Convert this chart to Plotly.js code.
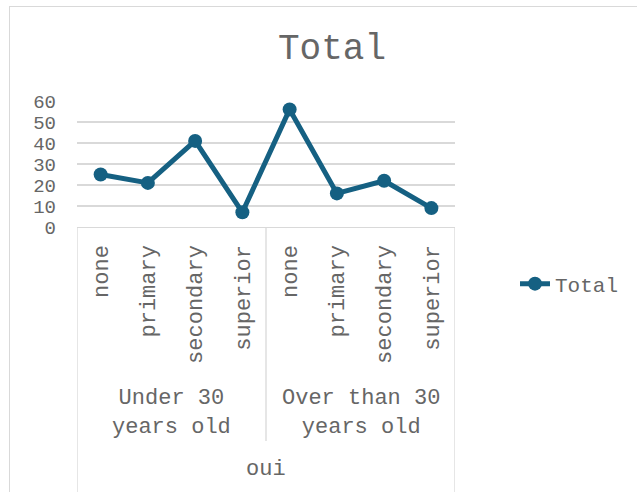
<!DOCTYPE html>
<html>
<head>
<meta charset="utf-8">
<script src="https://cdn.plot.ly/plotly-3.0.1.min.js"></script>
<style>
  html, body { margin: 0; padding: 0; background: #fff; }
  #wrap { position: relative; width: 637px; height: 492px; overflow: hidden; }
  #chart { position: absolute; left: 0; top: 0; width: 637px; height: 492px; }
  #frame { position: absolute; left: 9px; top: 6px; right: -2px; bottom: -2px;
           border-left: 1px solid #d9d9d9; border-top: 1px solid #d9d9d9; pointer-events: none; }
</style>
</head>
<body>
<div id="wrap"><div id="chart"></div><div id="frame"></div></div>
<script>
// ---- data ----
const outerLabel = "oui";
const groups = ["Under 30<br>years old", "Over than 30<br>years old"];
const education = ["none", "primary", "secondary", "superior"];
const under30 = [25, 21, 41, 7];
const over30 = [56, 16, 22, 9];
const seriesName = "Total";
const yTicks = [0, 10, 20, 30, 40, 50, 60];

// ---- build ----
const groupValues = [under30, over30];
const xIdx = [], yVals = [], tickText = [];
groupValues.forEach((vals, g) => {
  vals.forEach((v, i) => {
    xIdx.push(g * education.length + i);
    yVals.push(v);
    tickText.push(education[i]);
  });
});

const FONT = '"Liberation Mono", "Courier New", monospace';
const TXT = '#666666';
const GRID = '#d9d9d9';
const LINE = '#156082';

const plotH = 126; // px height of plot area (used for paper offsets)
const pxToPaperY = px => -px / plotH;

const shapes = [];
const annotations = [];
const nPer = education.length;
const nTot = xIdx.length;
// outer box verticals
shapes.push({type: 'line', xref: 'x', yref: 'paper', x0: -0.5, x1: -0.5, y0: 0, y1: pxToPaperY(270), line: {color: GRID, width: 1.3}});
shapes.push({type: 'line', xref: 'x', yref: 'paper', x0: nTot - 0.5, x1: nTot - 0.5, y0: 0, y1: pxToPaperY(270), line: {color: GRID, width: 1.3}});
// group dividers
for (let g = 1; g < groups.length; g++) {
  const xb = g * nPer - 0.5;
  shapes.push({type: 'line', xref: 'x', yref: 'paper', x0: xb, x1: xb, y0: 0, y1: pxToPaperY(214), line: {color: GRID, width: 1.3}});
}
groups.forEach((lab, g) => {
  annotations.push({
    xref: 'x', yref: 'paper', x: g * nPer + (nPer - 1) / 2, y: pxToPaperY(186),
    text: lab, showarrow: false, xanchor: 'center', yanchor: 'middle',
    font: {family: FONT, size: 22, color: TXT}
  });
});
annotations.push({
  xref: 'x', yref: 'paper', x: (nTot - 1) / 2, y: pxToPaperY(242),
  text: outerLabel, showarrow: false, xanchor: 'center', yanchor: 'middle',
  font: {family: FONT, size: 22, color: TXT}
});

const trace = {
  type: 'scatter', mode: 'lines+markers', name: seriesName,
  x: xIdx, y: yVals,
  line: {color: LINE, width: 5},
  marker: {color: LINE, size: 14},
  cliponaxis: false,
  showlegend: true
};

const layout = {
  width: 637, height: 492,
  margin: {l: 77, r: 182, t: 101, b: 265, pad: 0},
  paper_bgcolor: 'rgba(0,0,0,0)', plot_bgcolor: 'rgba(0,0,0,0)',
  font: {family: FONT, color: TXT, size: 22},
  title: {text: 'Total', font: {family: FONT, size: 36, color: TXT},
          xref: 'container', x: 332 / 637, xanchor: 'center',
          yref: 'container', y: 1 - 46 / 492, yanchor: 'middle'},
  xaxis: {
    range: [-0.5, nTot - 0.5], tickmode: 'array', tickvals: xIdx, ticktext: tickText,
    tickangle: -90, ticks: '', showgrid: false, zeroline: false,
    showline: true, linecolor: GRID, linewidth: 1.3,
    tickfont: {family: FONT, size: 22, color: TXT}, ticklabelstandoff: 8,
    fixedrange: true
  },
  yaxis: {
    range: [0, 60], tickmode: 'array', tickvals: yTicks, ticks: '',
    showgrid: true, gridcolor: GRID, gridwidth: 1.3, zeroline: false, showline: false,
    tickfont: {family: FONT, size: 19, color: TXT}, ticklabelstandoff: 20,
    fixedrange: true
  },
  showlegend: true,
  legend: {x: (515 - 77) / 378, xanchor: 'left', y: pxToPaperY(57), yanchor: 'middle',
           font: {family: FONT, size: 21, color: TXT}, bgcolor: 'rgba(0,0,0,0)',
           itemwidth: 30},
  shapes: shapes, annotations: annotations
};

Plotly.newPlot('chart', [trace], layout, {displayModeBar: false, staticPlot: true});
</script>
</body>
</html>
